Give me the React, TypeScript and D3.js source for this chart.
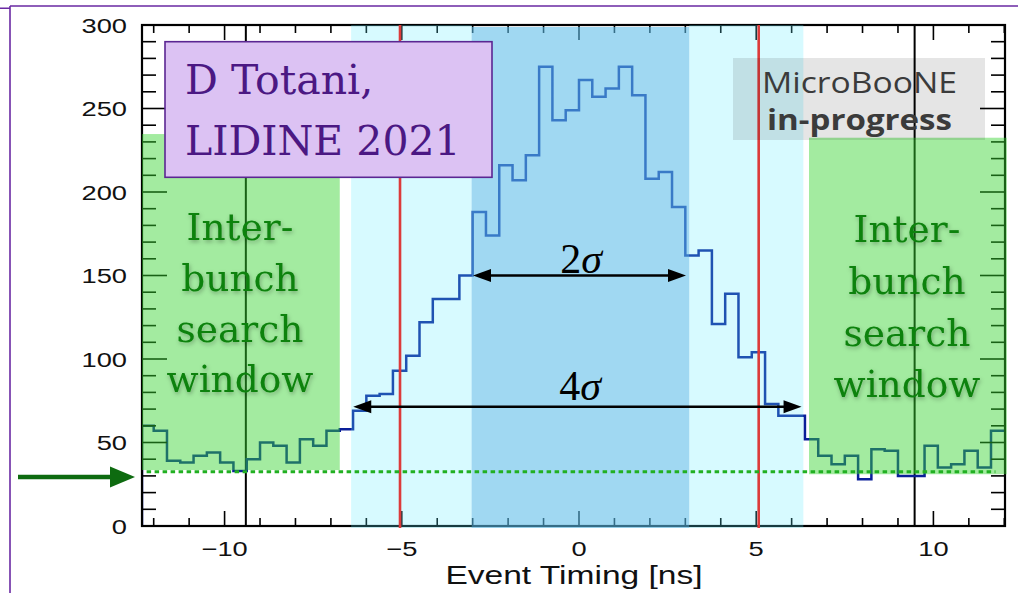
import React from "react";
import * as d3 from "d3";

// ---------- data ----------
const xDomain: [number, number] = [-12.33, 12.02];
const yDomain: [number, number] = [0, 300];
const binStart = -12.375;
const binWidth = 0.375;
const counts = [
  60, 57, 39, 38, 42, 44, 38, 33, 40, 50,
  48, 38, 52, 48, 57, 58, 69, 78, 79, 93,
  102, 122, 136, 136, 150, 188, 174, 216, 207, 222,
  275, 243, 249, 267, 257, 262, 275, 258, 208, 212,
  191, 162, 165, 121, 139, 101, 104, 73, 66, 66,
  52, 42, 37, 42, 28, 46, 45, 30, 30, 48,
  35, 37, 45, 35, 57,
];
const yMajorTicks = [0, 50, 100, 150, 200, 250, 300];
const xMajorTicks = [-10, -5, 0, 5, 10];
const bunchCenters = [-9.4, 9.47];
const sigmaLines = [-5.05, 5.07];
const band4Sigma: [number, number] = [-6.43, 6.33];
const band2Sigma: [number, number] = [-3.03, 3.11];
const windowLeft = { x: [-12.33, -6.75], y: [33.5, 234.7] };
const windowRight = { x: [6.49, 12.07], y: [31, 232.5] };
const threshold = 32.5;
const thresholdSpan = [-12.2, 11.75];
const arrow2Sigma = { x: [-2.99, 3.02], y: 150 };
const arrow4Sigma = { x: [-6.37, 6.28], y: 71.4 };
const thresholdArrowY = 29.3;
const windowLabel = ["Inter-", "bunch", "search", "window"];

// ---------- layout ----------
const W = 1018;
const H = 593;
const L = 142, R = 1005, T = 25, B = 526;

export default function App() {
  const x = d3.scaleLinear().domain(xDomain).range([L, R]);
  const y = d3.scaleLinear().domain(yDomain).range([B, T]);

  const pts: [number, number][] = [[xDomain[0], 0]];
  counts.forEach((c, i) => {
    pts.push([Math.max(binStart + i * binWidth, xDomain[0]), c]);
  });
  pts.push([binStart + counts.length * binWidth, counts[counts.length - 1]]);
  const histPath = d3
    .line<[number, number]>()
    .x((d) => x(d[0]))
    .y((d) => y(d[1]))
    .curve(d3.curveStepAfter)(pts) as string;

  const xMinor = d3.range(-12, 13, 1);
  const yMinor = d3.range(0, 301, 10);

  const arrowHead = (tipX: number, tipY: number, dir: number, len = 18, hw = 6.5) =>
    `M${tipX},${tipY} L${tipX - dir * len},${tipY - hw} L${tipX - dir * len},${tipY + hw} Z`;

  const greenText = (cx: number, baselines: number[]) => (
    <g filter="url(#shadow)" fill="#0f820f" fontFamily="'DejaVu Serif', serif" fontSize={37.5} textAnchor="middle">
      {windowLabel.map((t, i) => (
        <text key={t} x={cx} y={baselines[i]}>{t}</text>
      ))}
    </g>
  );

  return (
    <div style={{ position: "absolute", left: 0, top: 0 }}>
      <svg width={W} height={H} viewBox={`0 0 ${W} ${H}`} style={{ display: "block" }}>
        <defs>
          <clipPath id="frame">
            <rect x={L} y={T} width={R - L} height={B - T} />
          </clipPath>
          <filter id="shadow" x="-20%" y="-20%" width="140%" height="140%">
            <feDropShadow dx="1" dy="2" stdDeviation="2" floodColor="#000" floodOpacity="0.3" />
          </filter>
        </defs>
        <rect x={0} y={0} width={W} height={H} fill="#fff" />

        {/* slide frame */}
        <path d={`M0,8.3 L10,8.3 M10,6 L${W},6 M10,6 L10,${H}`} stroke="#6a2aa3" strokeWidth={1.6} fill="none" />

        {/* bunch centre lines */}
        {bunchCenters.map((v) => (
          <line key={v} x1={x(v)} x2={x(v)} y1={T} y2={B} stroke="#000" strokeWidth={2} />
        ))}

        {/* histogram */}
        <path d={histPath} fill="none" stroke="#0a1f99" strokeWidth={2.5} clipPath="url(#frame)" />

        {/* frame and ticks */}
        <g stroke="#000" strokeWidth={1.6}>
          {yMinor.map((v) => {
            const len = v % 50 === 0 ? 25 : 14;
            return (
              <g key={"y" + v}>
                <line x1={L} x2={L + len} y1={y(v)} y2={y(v)} />
                <line x1={R} x2={R - len} y1={y(v)} y2={y(v)} />
              </g>
            );
          })}
          {xMinor.map((v) => {
            const len = v % 5 === 0 ? 15 : 8;
            return (
              <g key={"x" + v}>
                <line x1={x(v)} x2={x(v)} y1={B} y2={B - len} />
                <line x1={x(v)} x2={x(v)} y1={T} y2={T + len} />
              </g>
            );
          })}
        </g>
        <rect x={L} y={T} width={R - L} height={B - T} fill="none" stroke="#000" strokeWidth={2.2} />

        {/* timing bands */}
        <rect x={x(band4Sigma[0])} y={T} width={x(band2Sigma[0]) - x(band4Sigma[0])} height={B - T + 2} fill="rgb(96,236,255)" fillOpacity={0.25} />
        <rect x={x(band2Sigma[1])} y={T} width={x(band4Sigma[1]) - x(band2Sigma[1])} height={B - T + 2} fill="rgb(96,236,255)" fillOpacity={0.25} />
        <rect x={x(band2Sigma[0])} y={T + 2} width={x(band2Sigma[1]) - x(band2Sigma[0])} height={B - T} fill="rgb(91,188,233)" fillOpacity={0.58} />

        {/* inter-bunch windows */}
        {[windowLeft, windowRight].map((w, i) => (
          <rect key={i} x={x(w.x[0])} y={y(w.y[1])} width={x(w.x[1]) - x(w.x[0])} height={y(w.y[0]) - y(w.y[1])} fill="rgb(54,211,48)" fillOpacity={0.46} />
        ))}

        {/* ±5 ns lines */}
        {sigmaLines.map((v) => (
          <line key={v} x1={x(v)} x2={x(v)} y1={T} y2={B + 2} stroke="#dc3a3a" strokeWidth={2.6} />
        ))}

        {/* threshold */}
        <line x1={x(thresholdSpan[0])} x2={x(thresholdSpan[1])} y1={y(threshold)} y2={y(threshold)} stroke="#22b022" strokeWidth={3} strokeDasharray="4.5 3.5" />
        <line x1={18} x2={114} y1={y(thresholdArrowY)} y2={y(thresholdArrowY)} stroke="#0e6b10" strokeWidth={4.5} />
        <path d={arrowHead(135, y(thresholdArrowY), 1, 25, 10.5)} fill="#0e6b10" />

        {/* sigma arrows */}
        {[arrow2Sigma, arrow4Sigma].map((a, i) => {
          const yy = y(a.y);
          const x0 = x(a.x[0]);
          const x1 = x(a.x[1]);
          return (
            <g key={i}>
              <line x1={x0 + 10} x2={x1 - 10} y1={yy} y2={yy} stroke="#000" strokeWidth={2.7} />
              <path d={arrowHead(x0, yy, -1)} fill="#000" />
              <path d={arrowHead(x1, yy, 1)} fill="#000" />
            </g>
          );
        })}
        <g fontFamily="'Liberation Serif', 'Times New Roman', serif" fontSize={42} fill="#000" textAnchor="middle">
          <text x={581} y={273}>2<tspan fontStyle="italic">σ</tspan></text>
          <text x={580} y={400}>4<tspan fontStyle="italic">σ</tspan></text>
        </g>

        {/* window labels */}
        {greenText(240, [240, 291, 342, 392])}
        {greenText(907, [242, 294, 346, 397])}

        {/* author box */}
        <rect x={165} y={41.7} width={327} height={135.6} fill="#dcc2f3" stroke="#5b2692" strokeWidth={1.6} />
        <g fontFamily="'DejaVu Serif', serif" fontSize={41} fill="#4b1883">
          <text x={185} y={94}>D Totani,</text>
          <text x={185} y={155}>LIDINE 2021</text>
        </g>

        {/* MicroBooNE label */}
        <rect x={733} y={58} width={252} height={82} fill="#000" fillOpacity={0.1} />
        <g fontFamily="'Open Sans', sans-serif" fill="#3b3b3b">
          <text x={762} y={93} fontSize={29} textLength={195} lengthAdjust="spacingAndGlyphs">MicroBooNE</text>
          <text x={767} y={130} fontSize={29} fontWeight="bold" textLength={185} lengthAdjust="spacingAndGlyphs">in-progress</text>
        </g>

        {/* tick labels */}
        <g fontFamily="'Liberation Sans', Arial, sans-serif" fontSize={21} fill="#111">
          {yMajorTicks.map((v) => (
            <text key={v} transform={`translate(127,${y(v) + 7.5}) scale(1.3,1)`} textAnchor="end">{v}</text>
          ))}
          {xMajorTicks.map((v) => (
            <text key={v} transform={`translate(${x(v)},556) scale(1.3,1)`} textAnchor="middle">{v < 0 ? "\u2212" + Math.abs(v) : String(v)}</text>
          ))}
        </g>
        <text transform="translate(574,584) scale(1.29,1)" textAnchor="middle" fontFamily="'Liberation Sans', Arial, sans-serif" fontSize={26} fill="#111">Event Timing [ns]</text>
      </svg>
    </div>
  );
}
